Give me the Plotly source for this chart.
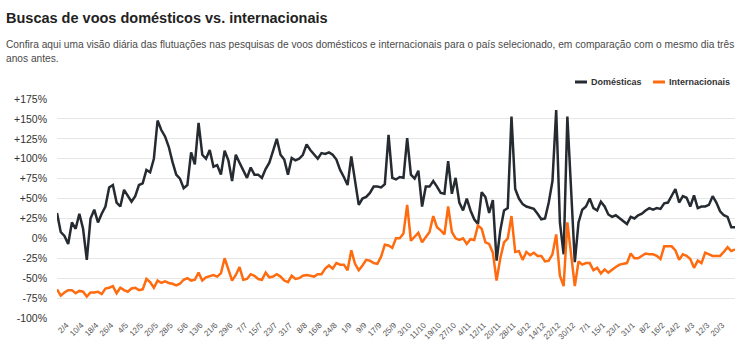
import pandas as pd
import plotly.graph_objects as go

# ---- data (every 2 days, starting 2022-03-28) ----
start_date = "2022-03-28"
step_days = 2

domesticas = [
    32, 8, 3, -7, 20, 12, 31, 12, -27, 25,
    36, 20, 31, 40, 64, 67, 45, 40, 61, 53,
    46, 53, 67, 69, 86, 83, 100, 148, 136, 128,
    115, 96, 80, 75, 63, 67, 108, 93, 145, 105,
    100, 111, 90, 92, 80, 110, 98, 72, 105, 95,
    86, 76, 89, 80, 80, 76, 87, 95, 110, 125,
    105, 99, 80, 101, 98, 100, 105, 118, 111, 105,
    100, 107, 106, 108, 105, 99, 86, 77, 67, 103,
    70, 42, 50, 52, 57, 65, 65, 64, 68, 130,
    76, 74, 77, 76, 126, 80, 75, 85, 40, 65,
    65, 72, 65, 57, 56, 97, 56, 76, 45, 35,
    50, 35, 24, 18, 58, 52, 32, 48, -28, 10,
    35, 38, 153, 62, 50, 43, 40, 38, 37, 31,
    24, 25, 45, 72, 161, 20, -20, 153, 60, -30,
    20, 36, 40, 50, 38, 35, 46, 40, 30, 27,
    29, 25, 22, 18, 27, 25, 29, 31, 35, 38,
    36, 38, 37, 44, 45, 53, 62, 45, 53, 51,
    40, 54, 38, 40, 40, 42, 53, 45, 34, 29,
    27, 14, 14,
]

internacionais = [
    -64, -72, -68, -65, -65, -69, -66, -67, -73, -68,
    -68, -67, -70, -63, -62, -60, -69, -62, -65, -67,
    -63, -62, -65, -64, -51, -55, -62, -53, -56, -54,
    -56, -57, -59, -57, -52, -50, -53, -52, -43, -53,
    -49, -47, -46, -48, -44, -25, -40, -53, -46, -36,
    -52, -51, -45, -47, -51, -52, -43, -49, -48, -45,
    -48, -53, -55, -47, -51, -50, -47, -46, -47, -48,
    -45, -45, -38, -34, -38, -31, -33, -33, -40, -15,
    -32, -40, -34, -27, -28, -31, -32, -23, -8, -9,
    -12, 0, 0, 6, 42, -3, 2, 7, -5, 2,
    8, 28, 14, 10, 5, 40, 8, 0, -2, 0,
    -7, -1, -2, 16, 12, -5, -7, -18, -53, -25,
    -5, 0, 28, -17, -16, -27, -17, -21, -18, -22,
    -22, -29, -28, -20, 5, -47, -60, 20, -22, -60,
    -29, -33, -31, -31, -40, -37, -44, -39, -43, -39,
    -36, -33, -32, -31, -19, -25, -25, -22, -19, -20,
    -20, -22, -26, -10, -10, -10, -15, -27, -20, -22,
    -26, -37, -28, -31, -18, -20, -22, -22, -22, -17,
    -11, -16, -14,
]

y_tick_vals = [175, 150, 125, 100, 75, 50, 25, 0, -25, -50, -75, -100]
y_tick_text = ["+175%", "+150%", "+125%", "+100%", "+75%", "+50%", "+25%",
               "0%", "-25%", "-50%", "-75%", "-100%"]

first_tick = "2022-04-02"
tick_every_days = 8
n_ticks = 45

# ---- build ----
n = max(len(domesticas), len(internacionais))
dates = pd.date_range(start_date, periods=n, freq=f"{step_days}D")
tick_dates = pd.date_range(first_tick, periods=n_ticks, freq=f"{tick_every_days}D")
tick_text = [f"{d.day}/{d.month}" for d in tick_dates]

DARK = "#252b31"
ORANGE = "#ff6b0f"

fig = go.Figure()
fig.add_trace(go.Scatter(x=dates[:len(domesticas)], y=domesticas, mode="lines",
                         name="Domésticas", line=dict(color=DARK, width=2.5)))
fig.add_trace(go.Scatter(x=dates[:len(internacionais)], y=internacionais, mode="lines",
                         name="Internacionais", line=dict(color=ORANGE, width=2.5)))

W, H = 747, 347
L, R, T, B = 57, 12, 99, 29
pw, ph = W - L - R, H - T - B


def px(x):
    return (x - L) / pw


def py(y):
    return (H - B - y) / ph


FONT = "Liberation Sans, Arial, sans-serif"

annotations = [
    dict(text="<b>Buscas de voos domésticos vs. internacionais</b>", x=px(4), y=py(18),
         xref="paper", yref="paper", xanchor="left", yanchor="middle", showarrow=False,
         font=dict(family=FONT, size=14.5, color="#222222")),
    dict(text="Confira aqui uma visão diária das flutuações nas pesquisas de voos domésticos e internacionais para o país selecionado, em comparação com o mesmo dia três",
         x=px(4), y=py(45), xref="paper", yref="paper", xanchor="left", yanchor="middle",
         showarrow=False, font=dict(family=FONT, size=10.2, color="#4a4a4a")),
    dict(text="anos antes.", x=px(4), y=py(58), xref="paper", yref="paper",
         xanchor="left", yanchor="middle", showarrow=False,
         font=dict(family=FONT, size=10.2, color="#4a4a4a")),
    dict(text="<b>Domésticas</b>", x=px(589), y=py(82), xref="paper", yref="paper",
         xanchor="left", yanchor="middle", showarrow=False,
         font=dict(family=FONT, size=9, color="#333333")),
    dict(text="<b>Internacionais</b>", x=px(667), y=py(82), xref="paper", yref="paper",
         xanchor="left", yanchor="middle", showarrow=False,
         font=dict(family=FONT, size=9, color="#333333")),
]

shapes = [
    dict(type="line", xref="paper", yref="paper", x0=px(575), x1=px(587), y0=py(82), y1=py(82),
         line=dict(color=DARK, width=3)),
    dict(type="line", xref="paper", yref="paper", x0=px(653), x1=px(665), y0=py(82), y1=py(82),
         line=dict(color=ORANGE, width=3)),
]

fig.update_layout(
    width=W, height=H,
    margin=dict(l=L, r=R, t=T, b=B, autoexpand=False),
    paper_bgcolor="white", plot_bgcolor="white",
    showlegend=False,
    annotations=annotations, shapes=shapes,
    font=dict(family=FONT, color="#333333"),
)

fig.update_xaxes(
    type="date",
    range=[dates[0], dates[n - 1]],
    tickmode="array", tickvals=tick_dates, ticktext=tick_text,
    tickangle=-45, tickfont=dict(family=FONT, size=8, color="#555555"),
    showgrid=False, zeroline=False, showline=False, ticks="", automargin=False,
)
fig.update_yaxes(
    range=[-100, 175],
    tickmode="array", tickvals=y_tick_vals, ticktext=y_tick_text,
    tickfont=dict(family=FONT, size=10.5, color="#333333"),
    showgrid=True, gridcolor="#e6e6e6", gridwidth=1,
    zeroline=False, showline=False, ticks="", ticklabelstandoff=9, automargin=False,
)

fig.write_html("out.html")
